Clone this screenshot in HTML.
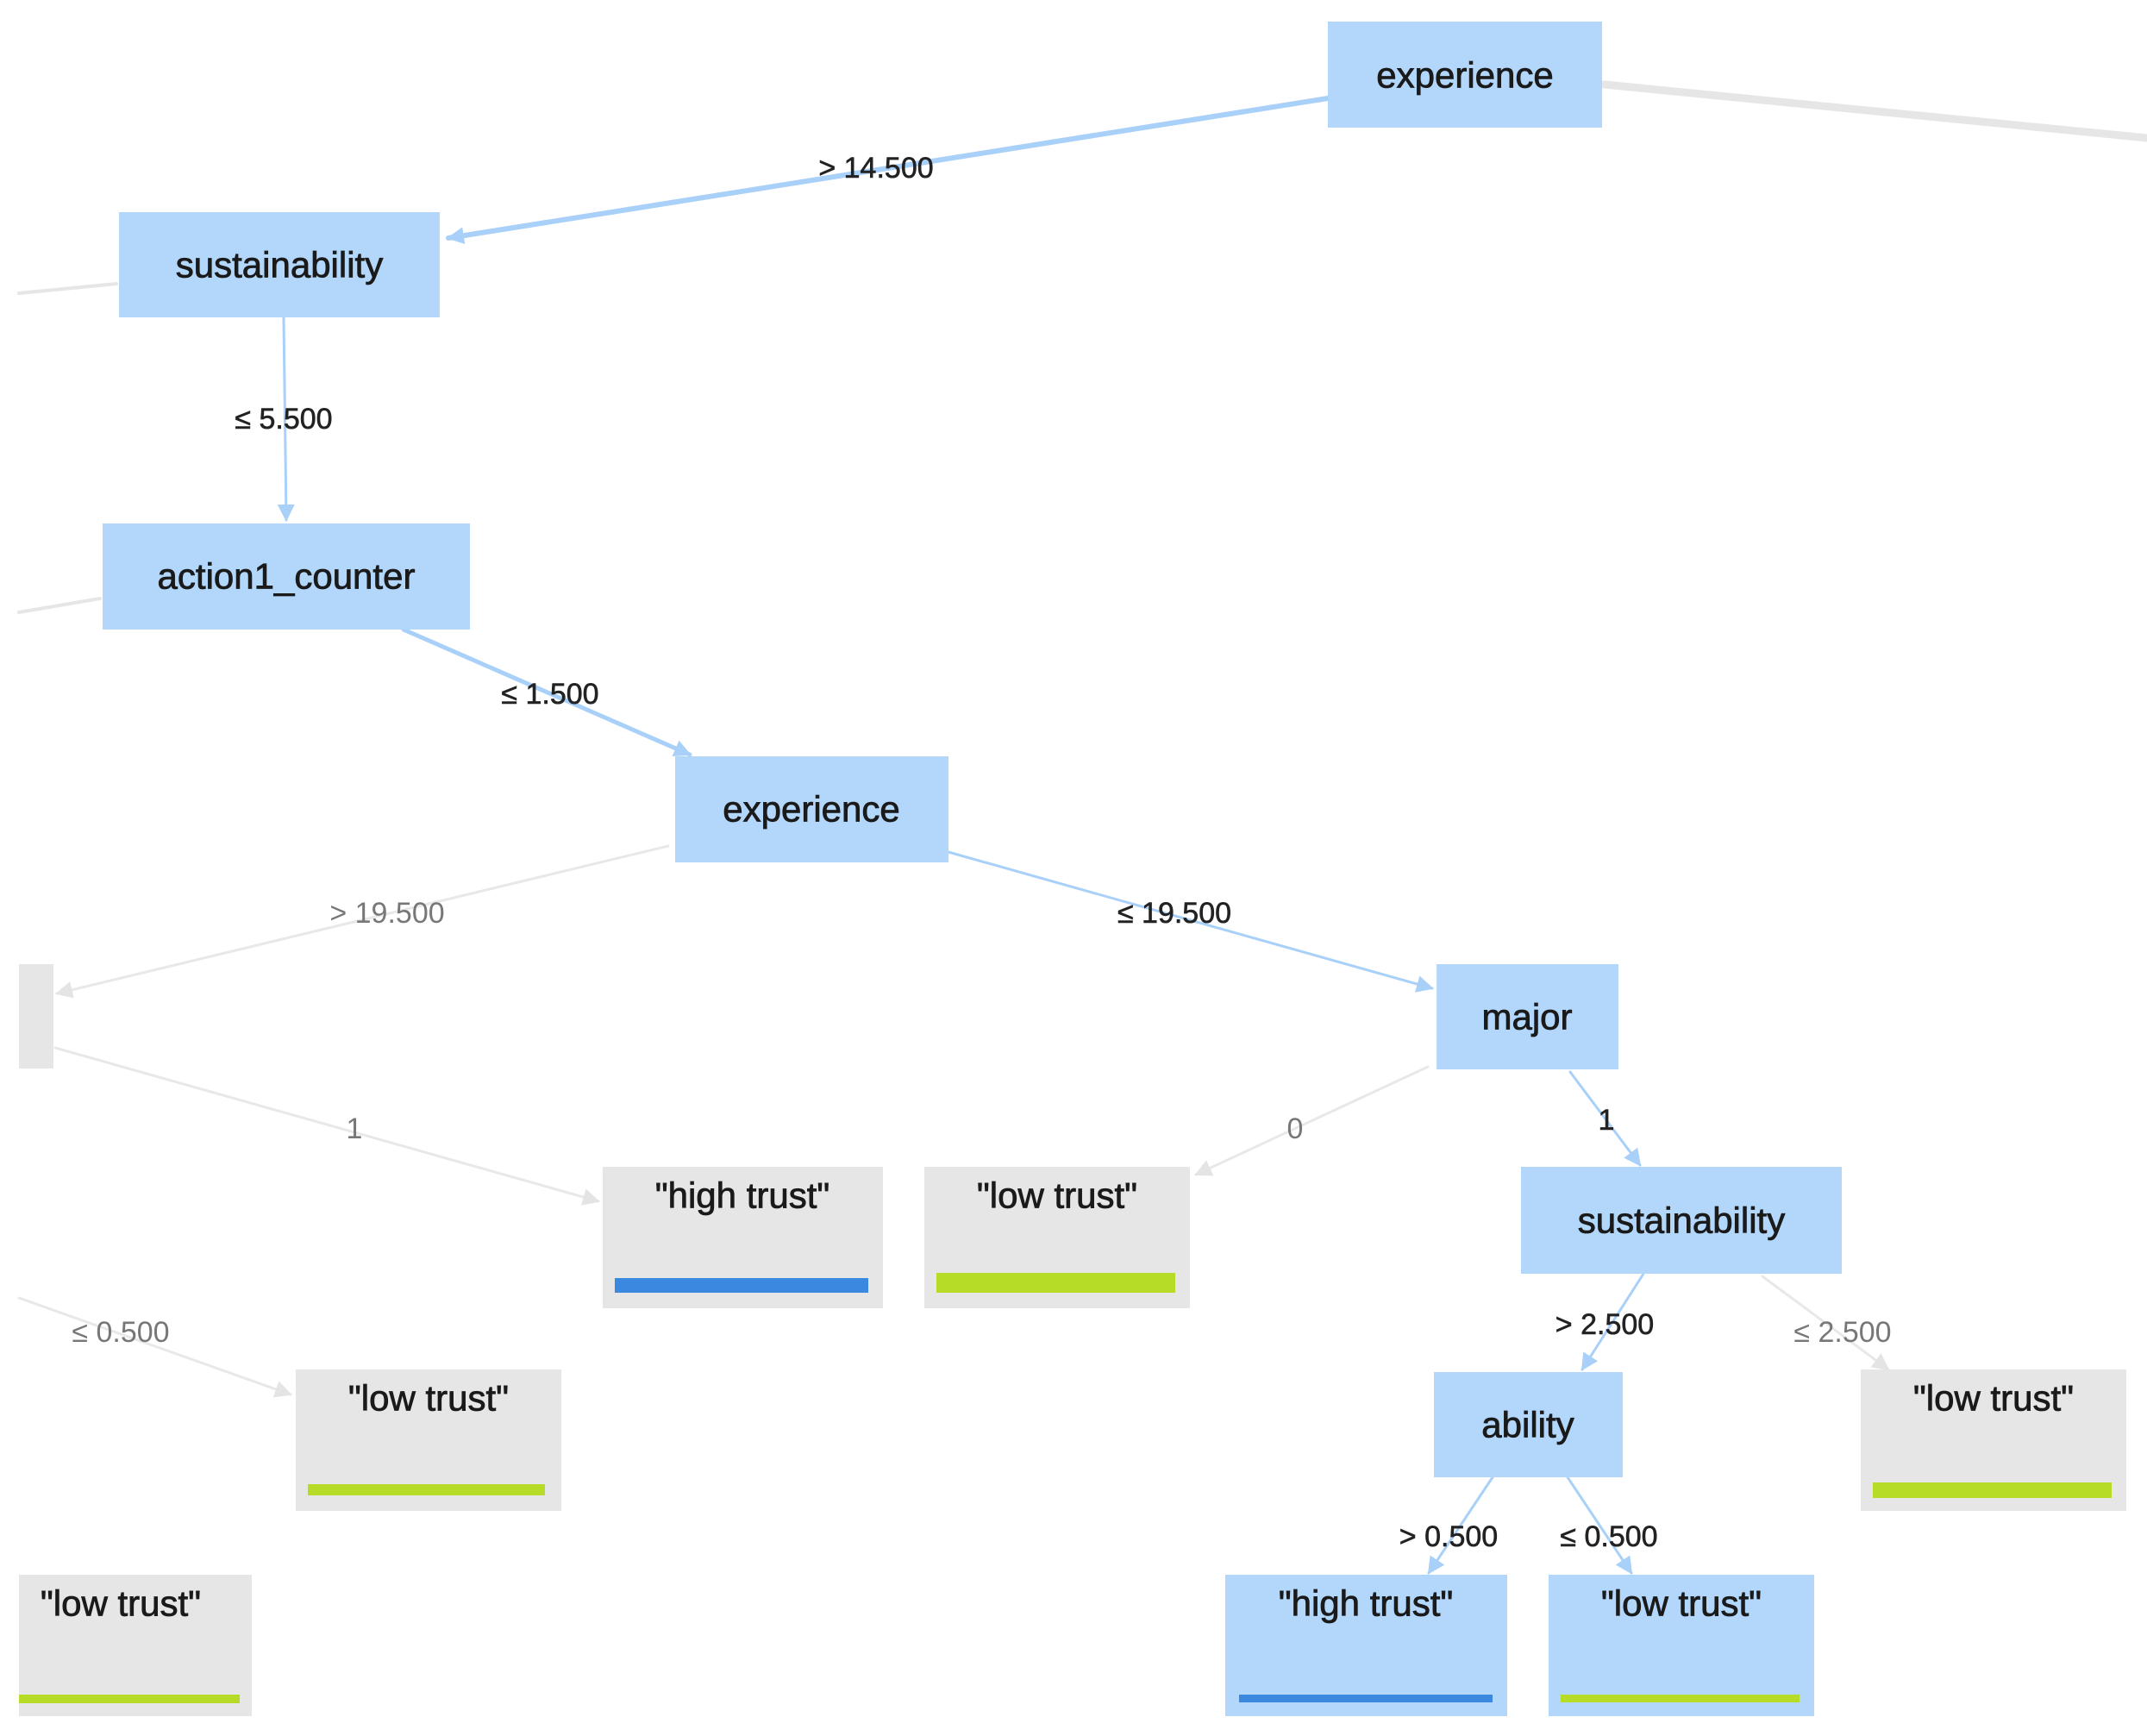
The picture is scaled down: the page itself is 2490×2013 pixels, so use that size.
<!DOCTYPE html>
<html><head><meta charset="utf-8"><style>
html,body{margin:0;padding:0;background:#fff;}
svg{display:block}
text{font-family:"Liberation Sans",sans-serif;}
.n{font-size:42px;fill:#1a1a1a;stroke:#1a1a1a;stroke-width:0.8px;text-anchor:middle;dominant-baseline:central;}
.e{font-size:34px;text-anchor:middle;dominant-baseline:central;}
.d{fill:#222;stroke:#222;stroke-width:0.6px;} .g{fill:#777;}
</style></head><body>
<svg width="2490" height="2013" viewBox="0 0 2490 2013" xmlns="http://www.w3.org/2000/svg">
<defs>
<marker id="ab" markerWidth="20" markerHeight="20" refX="9" refY="5" orient="auto" markerUnits="userSpaceOnUse" viewBox="0 0 10 10"><path d="M0,0 L10,5 L0,10 z" fill="#a8d0f8"/></marker>
<marker id="ag" markerWidth="20" markerHeight="20" refX="9" refY="5" orient="auto" markerUnits="userSpaceOnUse" viewBox="0 0 10 10"><path d="M0,0 L10,5 L0,10 z" fill="#e4e4e4"/></marker>
</defs>
<g fill="none" stroke-linecap="round">
<line x1="1861" y1="98" x2="2490" y2="160" stroke="#e6e6e6" stroke-width="9"/>
<line x1="22" y1="340" x2="135" y2="329" stroke="#e6e6e6" stroke-width="4"/>
<line x1="22" y1="710" x2="116" y2="694" stroke="#e6e6e6" stroke-width="4"/>
<line x1="1540" y1="114" x2="520" y2="276" stroke="#a8d0f8" stroke-width="6" marker-end="url(#ab)"/>
<line x1="329" y1="368" x2="332" y2="603" stroke="#a8d0f8" stroke-width="3" marker-end="url(#ab)"/>
<line x1="468" y1="730" x2="800" y2="875" stroke="#a8d0f8" stroke-width="5" marker-end="url(#ab)"/>
<line x1="775" y1="981" x2="66" y2="1152" stroke="#e8e8e8" stroke-width="3" marker-end="url(#ag)"/>
<line x1="1100" y1="988" x2="1661" y2="1146" stroke="#a8d0f8" stroke-width="3" marker-end="url(#ab)"/>
<line x1="64" y1="1215" x2="694" y2="1393" stroke="#e8e8e8" stroke-width="3" marker-end="url(#ag)"/>
<line x1="1656" y1="1237" x2="1387" y2="1362" stroke="#e8e8e8" stroke-width="3" marker-end="url(#ag)"/>
<line x1="1821" y1="1243" x2="1902" y2="1351" stroke="#a8d0f8" stroke-width="3" marker-end="url(#ab)"/>
<line x1="22" y1="1505" x2="337" y2="1617" stroke="#e8e8e8" stroke-width="3" marker-end="url(#ag)"/>
<line x1="1906" y1="1477" x2="1835" y2="1588" stroke="#a8d0f8" stroke-width="3" marker-end="url(#ab)"/>
<line x1="2044" y1="1480" x2="2190" y2="1588" stroke="#e8e8e8" stroke-width="3" marker-end="url(#ag)"/>
<line x1="1731" y1="1713" x2="1657" y2="1824" stroke="#a8d0f8" stroke-width="3" marker-end="url(#ab)"/>
<line x1="1818" y1="1713" x2="1892" y2="1824" stroke="#a8d0f8" stroke-width="3" marker-end="url(#ab)"/>
</g>
<text class="e d" x="1016" y="195">&gt; 14.500</text>
<text class="e d" x="329" y="486">≤ 5.500</text>
<text class="e d" x="638" y="805">≤ 1.500</text>
<text class="e g" x="449" y="1059">&gt; 19.500</text>
<text class="e d" x="1362" y="1059">≤ 19.500</text>
<text class="e g" x="411" y="1309">1</text>
<text class="e g" x="1502" y="1309">0</text>
<text class="e d" x="1863" y="1299">1</text>
<text class="e g" x="140" y="1545">≤ 0.500</text>
<text class="e d" x="1861" y="1536">&gt; 2.500</text>
<text class="e g" x="2137" y="1545">≤ 2.500</text>
<text class="e d" x="1680" y="1782">&gt; 0.500</text>
<text class="e d" x="1866" y="1782">≤ 0.500</text>
<g fill="#b3d7fb">
<rect x="1540" y="25" width="318" height="123"/>
<rect x="138" y="246" width="372" height="122"/>
<rect x="119" y="607" width="426" height="123"/>
<rect x="783" y="877" width="317" height="123"/>
<rect x="1666" y="1118" width="211" height="122"/>
<rect x="1764" y="1353" width="372" height="124"/>
<rect x="1663" y="1591" width="219" height="122"/>
<rect x="1421" y="1826" width="327" height="164"/>
<rect x="1796" y="1826" width="308" height="164"/>
</g>
<g fill="#e6e6e6">
<rect x="22" y="1118" width="40" height="121"/>
<rect x="699" y="1353" width="325" height="164"/>
<rect x="1072" y="1353" width="308" height="164"/>
<rect x="343" y="1588" width="308" height="164"/>
<rect x="2158" y="1588" width="308" height="164"/>
<rect x="22" y="1826" width="270" height="164"/>
</g>
<rect x="713" y="1482" width="294" height="17" fill="#3a88e0"/>
<rect x="1086" y="1476" width="277" height="23" fill="#b6dc28"/>
<rect x="357" y="1721" width="275" height="13" fill="#b6dc28"/>
<rect x="2172" y="1719" width="277" height="18" fill="#b6dc28"/>
<rect x="22" y="1965" width="256" height="10" fill="#b6dc28"/>
<rect x="1437" y="1965" width="294" height="9" fill="#3a88e0"/>
<rect x="1810" y="1965" width="277" height="9" fill="#b6dc28"/>
<text class="n" x="1699" y="87">experience</text>
<text class="n" x="324" y="307">sustainability</text>
<text class="n" x="332" y="668">action1_counter</text>
<text class="n" x="941" y="938">experience</text>
<text class="n" x="1771" y="1179">major</text>
<text class="n" x="1950" y="1415">sustainability</text>
<text class="n" x="1772" y="1652">ability</text>
<text class="n" x="861" y="1386">"high trust"</text>
<text class="n" x="1226" y="1386">"low trust"</text>
<text class="n" x="497" y="1621">"low trust"</text>
<text class="n" x="2312" y="1621">"low trust"</text>
<text class="n" x="140" y="1859">"low trust"</text>
<text class="n" x="1584" y="1859">"high trust"</text>
<text class="n" x="1950" y="1859">"low trust"</text>
</svg>
</body></html>
